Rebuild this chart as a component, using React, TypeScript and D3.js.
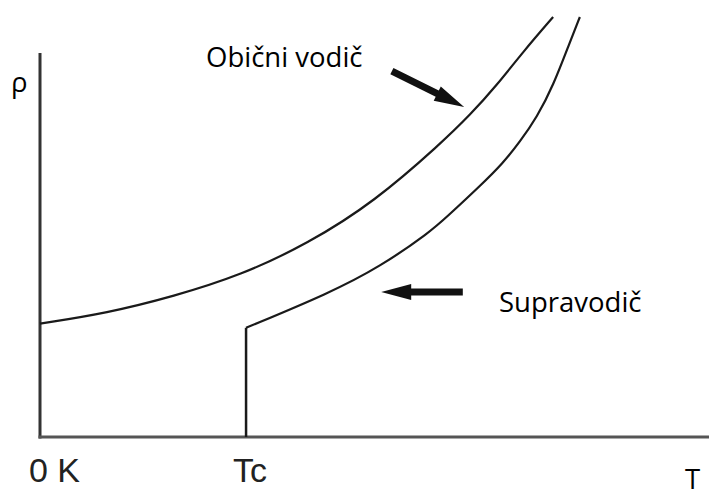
import React from 'react';
import * as d3 from 'd3';

// temperature (arbitrary units) vs resistivity (arbitrary units)
const T_C = 30.8;
const normalT = [0, 10, 20, 30, 40, 50, 60, 64.3, 68.3, 72.2, 76.7];
const normalRho = [27, 29.5, 33.5, 38.5, 46, 56, 70, 76.7, 83.8, 91.7, 100];
const superT = [30.8, 43.3, 50.8, 58.3, 60.8, 65.8, 69.2, 71.7, 74.3, 76.7, 79.2, 80.7];
const superRho = [26.0, 34.3, 40.5, 48.8, 52.4, 59.8, 65.2, 70.2, 76.2, 83.6, 94.0, 100];
const rhoAxisTop = 91.4;

// arrows [tailT, tailRho, tipT, tipRho]
const arrows = [
  [52.6, 87.1, 63.4, 78.6],
  [63.2, 34.5, 51.0, 34.5],
];

const W = 709;
const H = 497;

const x = d3.scaleLinear().domain([0, 100]).range([40, 709]);
const y = d3.scaleLinear().domain([0, 100]).range([437, 17]);

const line = d3
  .line<[number, number]>()
  .x(d => x(d[0]))
  .y(d => y(d[1]))
  .curve(d3.curveBasis);

const arrowPath = (a: number[]) => {
  const x1 = x(a[0]), y1 = y(a[1]), x2 = x(a[2]), y2 = y(a[3]);
  const len = Math.hypot(x2 - x1, y2 - y1);
  const ux = (x2 - x1) / len, uy = (y2 - y1) / len;
  const nx = -uy, ny = ux;
  const head = 30, hw = 8, sw = 3.5;
  const bx = x2 - ux * head, by = y2 - uy * head;
  const pts = [
    [x1 + nx * sw, y1 + ny * sw],
    [bx + nx * sw, by + ny * sw],
    [bx + nx * hw, by + ny * hw],
    [x2, y2],
    [bx - nx * hw, by - ny * hw],
    [bx - nx * sw, by - ny * sw],
    [x1 - nx * sw, y1 - ny * sw],
  ];
  return 'M' + pts.map(p => p.join(',')).join('L') + 'Z';
};

export default function App() {
  const normal = normalT.map((t, i) => [t, normalRho[i]] as [number, number]);
  const sup = superT.map((t, i) => [t, superRho[i]] as [number, number]);
  const labelFont = '"Open Sans", "Noto Sans", sans-serif';
  const tickFont = '"Liberation Sans", Arial, sans-serif';

  return (
    <svg
      width={W}
      height={H}
      style={{ position: 'absolute', left: 0, top: 0, background: '#fff' }}
    >
      {/* axes */}
      <line x1={x(0)} x2={x(0)} y1={y(rhoAxisTop)} y2={y(0) + 1.5} stroke="#333" strokeWidth={3} />
      <line x1={x(0) - 1.5} x2={x(100)} y1={y(0)} y2={y(0)} stroke="#555" strokeWidth={3} />

      {/* normal conductor */}
      <path d={line(normal) || ''} fill="none" stroke="#1a1a1a" strokeWidth={2.2} />

      {/* superconductor: drop to zero at Tc */}
      <path
        d={`M${x(T_C)},${y(0)}L${x(T_C)},${y(superRho[0])}`}
        fill="none"
        stroke="#1a1a1a"
        strokeWidth={2.5}
      />
      <path d={line(sup) || ''} fill="none" stroke="#1a1a1a" strokeWidth={2.2} />

      {arrows.map((a, i) => (
        <path key={i} d={arrowPath(a)} fill="#111" />
      ))}

      <text x={11} y={92} fontFamily={labelFont} fontSize={27.5} fill="#000">ρ</text>
      <text x={206} y={67} fontFamily={labelFont} fontSize={27.5} fill="#000">Obični vodič</text>
      <text x={499} y={312} fontFamily={labelFont} fontSize={27.5} fill="#000">Supravodič</text>
      <text x={685} y={489} fontFamily={labelFont} fontSize={27.5} fill="#000">T</text>

      <text x={x(0) - 11} y={482} fontFamily={tickFont} fontSize={34} fill="#222">0 K</text>
      <text x={x(T_C) + 4} y={482} textAnchor="middle" fontFamily={tickFont} fontSize={34} fill="#222">Tc</text>
    </svg>
  );
}
